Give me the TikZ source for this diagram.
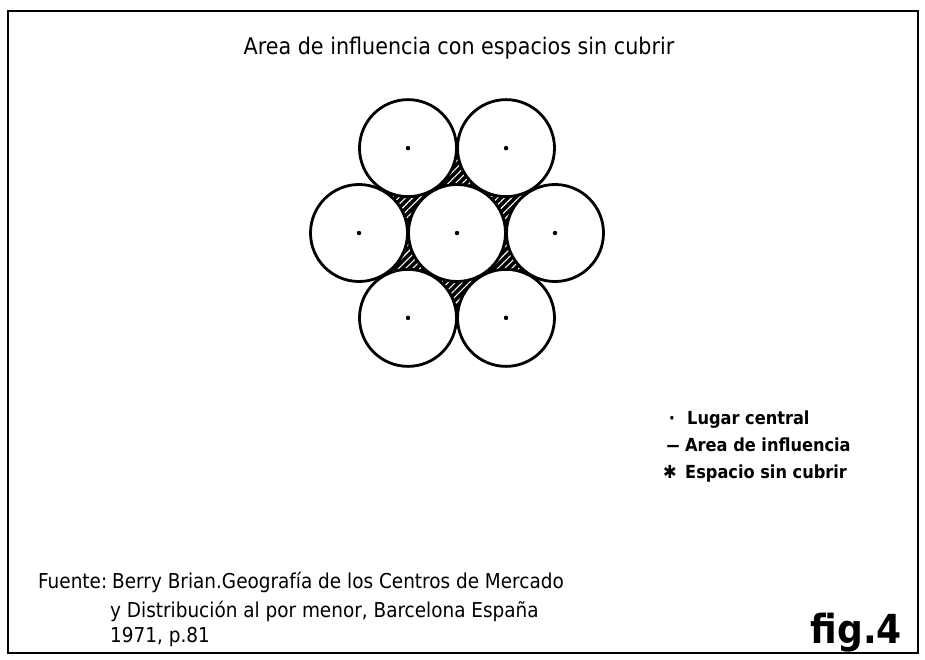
\documentclass[tikz,border=0pt]{standalone}
\usepackage{fontspec}
\setmainfont{DejaVu Sans Condensed}
\usetikzlibrary{patterns.meta}

\tikzset{
  zona/.style={circle, draw, line width=2.8pt, fill=white, minimum size=97pt, inner sep=0pt},
  lugar/.style={circle, fill, inner sep=0pt, minimum size=4.5pt},
  leyenda/.style={anchor=base west, inner sep=0pt, font=\bfseries\fontsize{18}{20}\selectfont},
  fuente/.style={anchor=base west, inner sep=0pt, font=\fontsize{20.5}{22}\selectfont},
}

\begin{document}
\begin{tikzpicture}[x=1pt, y=-1pt]
  \useasboundingbox (0,0) rectangle (925,660);

  % Marco
  \draw[line width=2.4pt] (8,11) rectangle (918,653);

  % Titulo
  \node[anchor=base, inner sep=0pt, font=\fontsize{23}{25}\selectfont] (titulo) at (459,55) {Area de influencia con espacios sin cubrir};

  % Lugares centrales (hexagono)
  \coordinate (p0) at (457,233);
  \foreach \i/\a in {1/-120, 2/-60, 3/0, 4/60, 5/120, 6/180}
    \path (p0) ++(\a:98) coordinate (p\i);

  % Espacios sin cubrir
  \fill[black] (p1) -- (p2) -- (p3) -- (p4) -- (p5) -- (p6) -- cycle;
  \path[pattern={Lines[angle=45, distance=5pt, line width=1.1pt]}, pattern color=white]
    (p1) -- (p2) -- (p3) -- (p4) -- (p5) -- (p6) -- cycle;

  % Areas de influencia
  \foreach \i in {0,...,6} {
    \node[zona] (z\i) at (p\i) {};
    \node[lugar] (c\i) at (p\i) {};
  }

  % Leyenda
  \node[leyenda, anchor=base] (s1) at (672,424) {·};
  \node[leyenda] (l1) at (687,424) {Lugar central};
  \node[leyenda, anchor=base, xscale=0.8] (s2) at (673,451) {—};
  \node[leyenda] (l2) at (685,451) {Area de influencia};
  \node[leyenda, anchor=base] (s3) at (670,478) {✱};
  \node[leyenda] (l3) at (685,478) {Espacio sin cubrir};

  % Fuente
  \node[fuente] (f0) at (38,588) {Fuente:};
  \node[fuente] (f1) at (112,588) {Berry Brian.Geografía de los Centros de Mercado};
  \node[fuente] (f2) at (110,617) {y Distribución al por menor, Barcelona España};
  \node[fuente] (f3) at (110,642) {1971, p.81};

  \node[anchor=base east, inner sep=0pt, font=\bfseries\fontsize{40}{44}\selectfont] (fig) at (902,643) {fig.4};
\end{tikzpicture}
\end{document}
